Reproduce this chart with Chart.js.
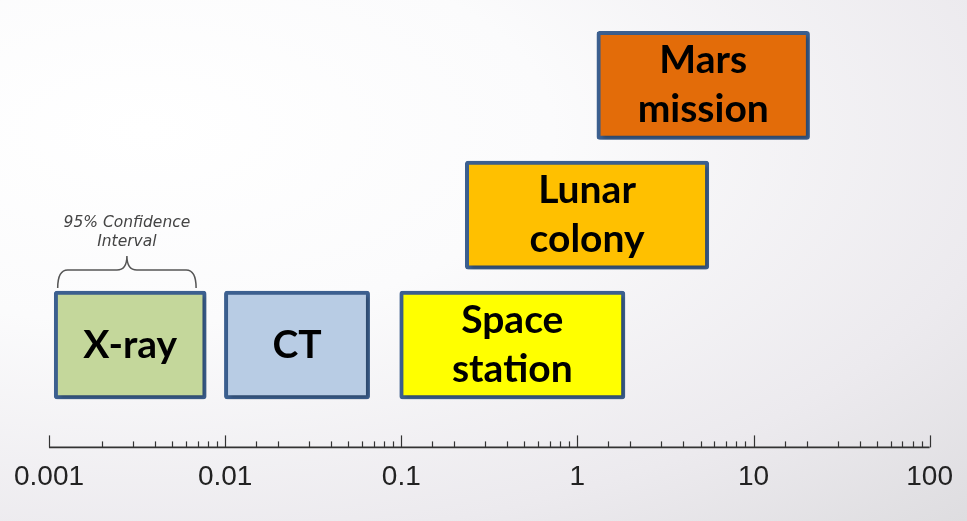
<!DOCTYPE html>
<html>
<head>
<meta charset="utf-8">
<script src="https://cdn.jsdelivr.net/npm/chart.js@4/dist/chart.umd.min.js"></script>
<style>
  html, body { margin: 0; padding: 0; }
  body {
    width: 967px; height: 521px; overflow: hidden;
    background: radial-gradient(ellipse at 15% 25%, #ffffff 0%, #fbfbfc 35%, #eceaee 75%, #dedde0 100%);
  }
  #wrap { position: relative; width: 967px; height: 521px; }
</style>
</head>
<body>
<div id="wrap"><canvas id="chart"></canvas></div>
<script>
// boxes on a log scale (dose, arbitrary units)
const boxNames = [['X-ray'], ['CT'], ['Space', 'station'], ['Lunar', 'colony'], ['Mars', 'mission']];
const boxStart = [0.00107, 0.0099, 0.098, 0.231, 1.29];
const boxEnd = [0.0078, 0.0661, 1.86, 5.57, 20.8];
const boxRow = [1, 1, 1, 2, 3];
const boxColors = ['#C4D79B', '#B8CCE4', '#FFFF00', '#FFC000', '#E36C09'];
const tickLabels = ['0.001', '0.01', '0.1', '1', '10', '100'];
const ciRange = [0.00112, 0.00684];
const ciText = ['95% Confidence', 'Interval'];

function labelFor(value) {
  const hit = tickLabels.find(l => Math.abs(Math.log10(value) - Math.log10(Number(l))) < 1e-6)
  return hit || ''
}

const datasets = boxNames.map((name, i) => ({
  label: name.join(' '),
  data: [{ x: [boxStart[i], boxEnd[i]], y: boxRow[i] }],
  backgroundColor: boxColors[i],
  borderColor: '#3C6090',
  borderWidth: 4,
  borderRadius: 3,
  borderSkipped: false,
  barThickness: 108,
  grouped: false
}))

// axis line + upward tick marks
const axisPlugin = {
  id: 'axisTicks',
  afterDraw(chart) {
    const ctx = chart.ctx
    const xs = chart.scales.x
    const yAxis = chart.chartArea.bottom + 0.5
    ctx.save()
    ctx.strokeStyle = '#333'
    ctx.lineWidth = 1.6
    ctx.beginPath()
    ctx.moveTo(xs.getPixelForValue(0.001), yAxis)
    ctx.lineTo(xs.getPixelForValue(100), yAxis)
    ctx.stroke()
    ctx.lineWidth = 1.2
    xs.ticks.forEach(t => {
      const px = Math.round(xs.getPixelForValue(t.value)) + 0.5
      const len = labelFor(t.value) ? 12 : 6
      ctx.beginPath()
      ctx.moveTo(px, yAxis)
      ctx.lineTo(px, yAxis - len)
      ctx.stroke()
    })
    ctx.restore()
  }
}

// shadow under boxes, box texts and the confidence brace
const boxPlugin = {
  id: 'boxText',
  beforeDatasetsDraw(chart) {
    const ctx = chart.ctx
    ctx.save()
    ctx.shadowColor = 'rgba(0,0,0,0.3)'
    ctx.shadowBlur = 4
    ctx.shadowOffsetX = 2
    ctx.shadowOffsetY = 2
  },
  afterDatasetsDraw(chart) {
    const ctx = chart.ctx
    ctx.restore()
    ctx.save()
    ctx.fillStyle = '#000'
    ctx.font = 'bold 39px Lato, "Open Sans", sans-serif'
    ctx.textAlign = 'center'
    ctx.textBaseline = 'middle'
    boxNames.forEach((lines, i) => {
      const el = chart.getDatasetMeta(i).data[0]
      const cx = (el.x + el.base) / 2
      const lh = 49
      const y0 = el.y - (lines.length - 1) * lh / 2
      lines.forEach((txt, k) => ctx.fillText(txt, cx, y0 + k * lh))
    })

    // brace above the X-ray box
    const xs = chart.scales.x
    const first = chart.getDatasetMeta(0).data[0]
    const top = first.y - first.height / 2
    const xl = xs.getPixelForValue(ciRange[0])
    const xr = xs.getPixelForValue(ciRange[1])
    const xm = (xl + xr) / 2
    const yb = top - 3, yh = top - 21, yt = top - 35, r = 10
    ctx.strokeStyle = '#555'
    ctx.lineWidth = 1.5
    ctx.beginPath()
    ctx.moveTo(xl, yb)
    ctx.quadraticCurveTo(xl, yh, xl + r, yh)
    ctx.lineTo(xm - r, yh)
    ctx.quadraticCurveTo(xm, yh, xm, yt)
    ctx.quadraticCurveTo(xm, yh, xm + r, yh)
    ctx.lineTo(xr - r, yh)
    ctx.quadraticCurveTo(xr, yh, xr, yb)
    ctx.stroke()

    ctx.fillStyle = '#444'
    ctx.font = 'italic 15.5px "DejaVu Sans", sans-serif'
    ctx.textBaseline = 'alphabetic'
    ctx.fillText(ciText[0], xm, yt - 29)
    ctx.fillText(ciText[1], xm, yt - 10)
    ctx.restore()
  }
}

new Chart(document.getElementById('chart'), {
  type: 'bar',
  data: { datasets },
  options: {
    indexAxis: 'y',
    responsive: true,
    maintainAspectRatio: false,
    animation: false,
    layout: { padding: { left: 49, right: 34, top: 1, bottom: 12.5 } },
    plugins: {
      legend: { display: false },
      tooltip: { enabled: false }
    },
    scales: {
      x: {
        type: 'logarithmic',
        min: 0.001,
        max: 100,
        grid: { display: false, drawTicks: false },
        border: { display: false },
        ticks: {
          autoSkip: false,
          maxRotation: 0,
          padding: 14,
          color: '#222',
          font: { size: 28, family: '"Liberation Sans", Arial, sans-serif' },
          callback: (v) => labelFor(v)
        }
      },
      y: {
        type: 'linear',
        min: 0.215,
        max: 3.65,
        offset: false,
        display: false
      }
    }
  },
  plugins: [axisPlugin, boxPlugin]
})
</script>
</body>
</html>
